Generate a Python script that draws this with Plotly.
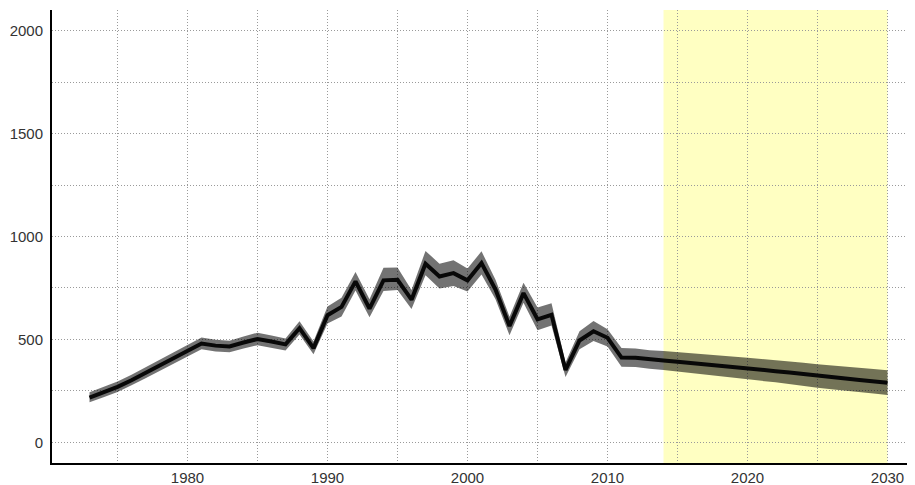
import plotly.graph_objects as go

years = list(range(1973, 2031))
values = [218, 243, 270, 302, 338, 373, 408, 445, 480, 470,
          466, 485, 502, 490, 476, 555, 458, 618, 658, 782,
          650, 787, 790, 693, 868, 806, 822, 787, 871, 742,
          565, 725, 598, 620, 352, 495, 540, 508, 412, 411,
          403, 398, 392, 386, 380, 372, 366, 359, 352, 346,
          339, 331, 322, 316, 310, 303, 297, 290]
upper = [243, 268, 296, 328, 365, 400, 436, 473, 510, 498,
         494, 514, 533, 519, 505, 588, 490, 660, 703, 828,
         695, 848, 850, 740, 930, 868, 885, 845, 928, 790,
         610, 775, 655, 676, 388, 540, 590, 550, 458, 456,
         448, 444, 439, 434, 429, 422, 417, 411, 405, 400,
         394, 387, 379, 374, 369, 363, 357, 350]
lower = [195, 219, 245, 277, 312, 347, 381, 417, 452, 442,
         438, 456, 472, 460, 446, 524, 428, 578, 612, 738,
         608, 735, 740, 648, 812, 748, 760, 733, 815, 695,
         520, 678, 545, 568, 318, 452, 492, 466, 368, 366,
         358, 352, 345, 338, 331, 322, 315, 307, 299, 292,
         284, 275, 265, 258, 251, 243, 237, 230]
forecast_start = 2014
forecast_end = 2030

x_tick_vals = [1980, 1990, 2000, 2010, 2020, 2030]
y_tick_vals = [0, 500, 1000, 1500, 2000]

fig = go.Figure()

fig.add_trace(go.Scatter(
    x=years + years[::-1],
    y=upper + lower[::-1],
    fill="toself",
    fillcolor="rgba(0,0,0,0.55)",
    line=dict(width=0, color="rgba(0,0,0,0)"),
    mode="lines",
    hoverinfo="skip",
    showlegend=False,
))
fig.add_trace(go.Scatter(
    x=years, y=values, mode="lines",
    line=dict(color="#080808", width=4),
    showlegend=False,
))

fig.add_shape(type="rect", xref="x", yref="paper",
              x0=forecast_start, x1=forecast_end, y0=0, y1=1,
              fillcolor="#ffffc2", line=dict(width=0), layer="below")

grid_color = "#9a9a9a"
grid_dash = "1px,2px"
font = dict(family="Liberation Sans, Arial, sans-serif", size=15, color="#333333")

fig.update_layout(
    width=907, height=477,
    margin=dict(l=44, r=3, t=2, b=22, autoexpand=False),
    paper_bgcolor="white", plot_bgcolor="white",
    font=font,
    xaxis=dict(
        range=[1970.32, 2031.75], automargin=False,
        tickmode="array", tickvals=x_tick_vals,
        showgrid=True, gridcolor=grid_color, griddash=grid_dash, gridwidth=1,
        minor=dict(dtick=5, tick0=1970, showgrid=True, gridcolor=grid_color,
                   griddash=grid_dash, gridwidth=1),
        showline=True, linecolor="#000000", linewidth=2,
        zeroline=False, ticks="", ticklabelstandoff=0,
        tickfont=font,
    ),
    yaxis=dict(
        range=[-100, 2100], automargin=False,
        tickmode="array", tickvals=y_tick_vals,
        showgrid=True, gridcolor=grid_color, griddash=grid_dash, gridwidth=1,
        minor=dict(dtick=250, tick0=0, showgrid=True, gridcolor=grid_color,
                   griddash=grid_dash, gridwidth=1),
        showline=True, linecolor="#000000", linewidth=2,
        zeroline=False, ticks="", ticklabelstandoff=4,
        tickfont=font,
    ),
)

fig.write_html("out.html")
